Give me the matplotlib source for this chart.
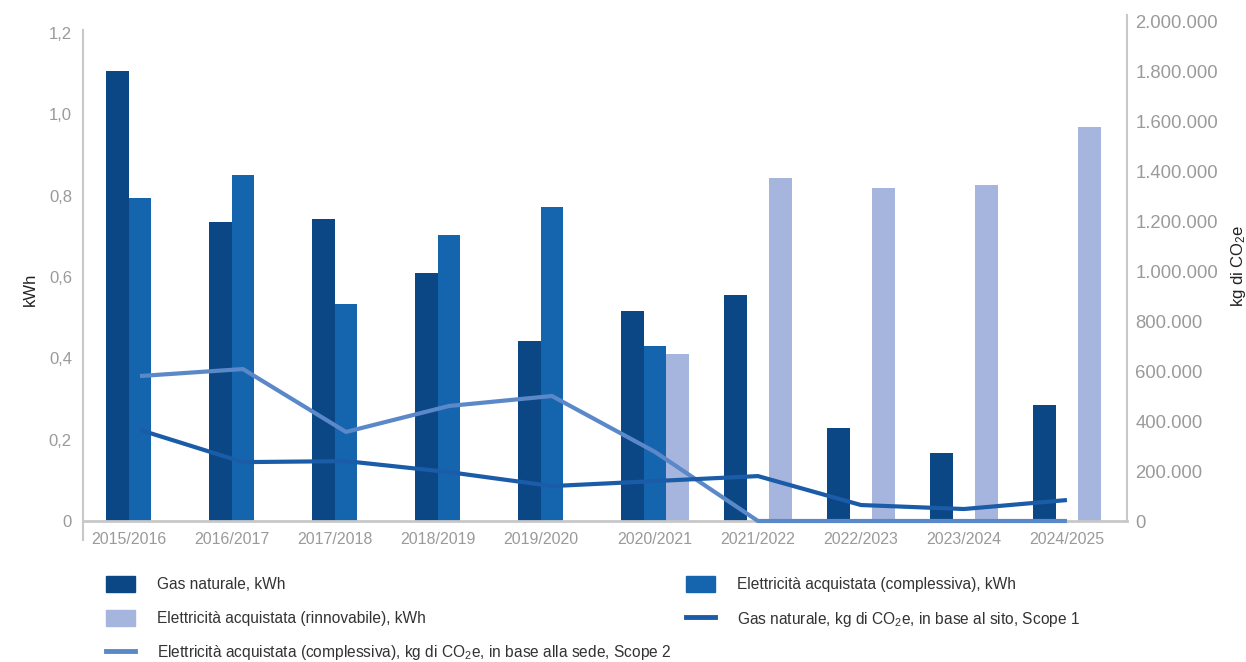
import numpy as np
import matplotlib
matplotlib.use('Agg')
import matplotlib.pyplot as plt
from matplotlib.patches import Patch
from matplotlib.lines import Line2D
from matplotlib.ticker import FuncFormatter

plt.rcParams['font.family'] = ['Liberation Sans', 'DejaVu Sans']
plt.rcParams['mathtext.fontset'] = 'custom'
plt.rcParams['mathtext.rm'] = 'Liberation Sans'
plt.rcParams['mathtext.it'] = 'Liberation Sans'

# data
years = ['2015/2016', '2016/2017', '2017/2018', '2018/2019', '2019/2020',
         '2020/2021', '2021/2022', '2022/2023', '2023/2024', '2024/2025']
gas_kwh = [1.107, 0.735, 0.743, 0.610, 0.443, 0.516, 0.556, 0.229, 0.167, 0.285]
elec_tot_kwh = [0.794, 0.851, 0.534, 0.703, 0.772, 0.430, np.nan, np.nan, np.nan, np.nan]
elec_ren_kwh = [np.nan, np.nan, np.nan, np.nan, np.nan, 0.411, 0.843, 0.820, 0.825, 0.969]
gas_co2 = [365000, 236000, 240000, 196000, 140000, 160000, 180000, 64000, 48000, 84000]
elec_co2 = [581000, 609000, 357000, 461000, 501000, 277000, 0, 0, 0, 0]

C_GAS = '#0b4785'
C_ELEC = '#1565ae'
C_REN = '#a6b5dd'
C_L1 = '#1a5ca8'
C_L2 = '#5b88c8'
GRID = '#c8c8c8'
TICK = '#9a9a9a'

fig = plt.figure(figsize=(12.46, 6.62), dpi=100)
ax = fig.add_axes([83 / 1246, 1 - 521 / 662, (1127 - 83) / 1246, (521 - 22) / 662])
ax2 = ax.twinx()

x = np.arange(len(years))
w = 0.22
ax.bar(x - w, gas_kwh, w, color=C_GAS, zorder=2)
ax.bar(x, elec_tot_kwh, w, color=C_ELEC, zorder=2)
ax.bar(x + w, elec_ren_kwh, w, color=C_REN, zorder=2)

ax.set_xlim(-0.553, 9.583)
ax.set_ylim(0, 1.2 * 499 / 488)
ax.set_yticks([0, 0.2, 0.4, 0.6, 0.8, 1.0, 1.2])
ax.yaxis.set_major_formatter(FuncFormatter(lambda v, p: '0' if v == 0 else f'{v:.1f}'.replace('.', ',')))

# x labels centered on the bars that exist in each group
centers = []
for i in range(len(years)):
    offs = [-w]
    if not np.isnan(elec_tot_kwh[i]):
        offs.append(0)
    if not np.isnan(elec_ren_kwh[i]):
        offs.append(w)
    centers.append(i + (min(offs) + max(offs)) / 2)
ax.set_xticks(centers)
ax.set_xticklabels(years)

for s in ['top', 'right']:
    ax.spines[s].set_visible(False)
ax.spines['left'].set_color(GRID)
ax.spines['left'].set_linewidth(1.5)
ax.spines['left'].set_bounds(-0.047, 1.208)
ax.spines['bottom'].set_color(GRID)
ax.spines['bottom'].set_linewidth(2)
ax.tick_params(axis='both', length=0, colors=TICK, labelsize=12)
ax.tick_params(axis='x', pad=8, labelsize=11.5)
ax.tick_params(axis='y', pad=8)

ax2.plot(x, elec_co2, color=C_L2, lw=3, zorder=3, clip_on=False, solid_capstyle='butt')
ax2.plot(x, gas_co2, color=C_L1, lw=3, zorder=4, clip_on=False, solid_capstyle='butt')
ax2.set_ylim(0, 2000000)
ax2.set_yticks(np.arange(0, 2000001, 200000))
ax2.yaxis.set_major_formatter(FuncFormatter(lambda v, p: f'{int(v):,}'.replace(',', '.')))
for s in ['top', 'left', 'bottom']:
    ax2.spines[s].set_visible(False)
ax2.spines['right'].set_color(GRID)
ax2.spines['right'].set_linewidth(1.5)
ax2.spines['right'].set_bounds(0, 2030000)
ax2.tick_params(axis='y', length=0, colors=TICK, labelsize=13.3, pad=6)

fig.text(30 / 1246, 1 - 289 / 662, 'kWh', rotation=90, ha='center', va='center',
         fontsize=12, color='#222222')
fig.text(1238 / 1246, 1 - 266 / 662, 'kg di CO$_2$e', rotation=90, ha='center', va='center',
         fontsize=12, color='#222222')

h_gas = Patch(color=C_GAS)
h_elec = Patch(color=C_ELEC)
h_ren = Patch(color=C_REN)
h_l1 = Line2D([], [], color=C_L1, lw=3.5)
h_l2 = Line2D([], [], color=C_L2, lw=3.5)

leg_kw = dict(frameon=False, fontsize=11.2, handlelength=1.85, handleheight=1.2,
              handletextpad=1.4, labelspacing=1.12, borderpad=0, borderaxespad=0,
              labelcolor='#333333')
leg1 = fig.legend([h_gas, h_ren, h_l2],
                  ['Gas naturale, kWh',
                   'Elettricità acquistata (rinnovabile), kWh',
                   'Elettricità acquistata (complessiva), kg di CO$_2$e, in base alla sede, Scope 2'],
                  loc='upper left', bbox_to_anchor=(106 / 1246, 1 - 576 / 662), **leg_kw)
leg2 = fig.legend([h_elec, h_l1],
                  ['Elettricità acquistata (complessiva), kWh',
                   'Gas naturale, kg di CO$_2$e, in base al sito, Scope 1'],
                  loc='upper left', bbox_to_anchor=(686 / 1246, 1 - 576 / 662), **leg_kw)

fig.savefig('out.png', dpi=100)
